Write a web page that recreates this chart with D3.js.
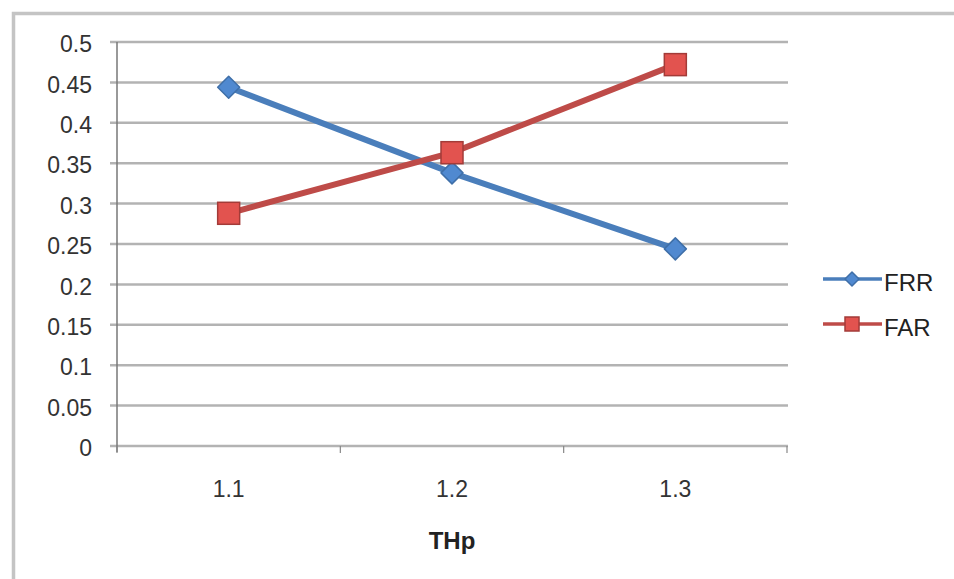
<!DOCTYPE html>
<html>
<head>
<meta charset="utf-8">
<script src="https://cdn.jsdelivr.net/npm/d3@7"></script>
<style>
  html, body { margin: 0; padding: 0; background: #fff; }
  svg { display: block; font-family: "Liberation Sans", Arial, sans-serif; }
</style>
</head>
<body>
<svg id="chart" width="954" height="579"></svg>
<script>
// Threshold values on the x axis
const categories = ["1.1", "1.2", "1.3"];
// Error rates per threshold
const frrValues = [0.444, 0.338, 0.244];
const farValues = [0.288, 0.363, 0.472];
const yTicks = [0, 0.05, 0.1, 0.15, 0.2, 0.25, 0.3, 0.35, 0.4, 0.45, 0.5];
const yTickLabels = ["0", "0.05", "0.1", "0.15", "0.2", "0.25", "0.3", "0.35", "0.4", "0.45", "0.5"];
const seriesNames = ["FRR", "FAR"];

const svg = d3.select("#chart");

// Outer chart frame
svg.append("path")
  .attr("d", "M13.5,579 V13.5 H954")
  .attr("fill", "none")
  .attr("stroke", "#c4c4c4")
  .attr("stroke-width", 3.5);

const plotLeft = 117, plotRight = 787, plotTop = 42, plotBottom = 446;

const x = d3.scaleBand().domain(categories).range([plotLeft, plotRight]).padding(0);
const y = d3.scaleLinear().domain([0, 0.5]).range([plotBottom, plotTop]);

// Horizontal gridlines
svg.append("g")
  .selectAll("line")
  .data(yTicks)
  .join("line")
  .attr("x1", plotLeft - 7)
  .attr("x2", plotRight + 1)
  .attr("y1", d => y(d))
  .attr("y2", d => y(d))
  .attr("stroke", "#b3b3b3")
  .attr("stroke-width", 2.5);

// Y axis labels
const yAxis = d3.axisLeft(y)
  .tickValues(yTicks)
  .tickFormat((d, i) => yTickLabels[i])
  .tickSize(0)
  .tickPadding(25);
const gy = svg.append("g").attr("transform", `translate(${plotLeft},0)`).call(yAxis);
gy.select(".domain").remove();
gy.selectAll("text").attr("font-size", 23).attr("fill", "#333").attr("dy", "0.42em");

// Y axis line
svg.append("line")
  .attr("x1", plotLeft).attr("x2", plotLeft)
  .attr("y1", plotTop).attr("y2", plotBottom + 6)
  .attr("stroke", "#777").attr("stroke-width", 1.5);

// X axis ticks at category boundaries
const boundaries = categories.map(c => x(c)).concat([x(categories[categories.length - 1]) + x.bandwidth()]);
svg.append("g")
  .selectAll("line")
  .data(boundaries)
  .join("line")
  .attr("x1", d => d).attr("x2", d => d)
  .attr("y1", plotBottom).attr("y2", plotBottom + 7)
  .attr("stroke", "#888").attr("stroke-width", 1.2);

// X axis labels
const xAxis = d3.axisBottom(x).tickSize(0).tickPadding(35);
const gx = svg.append("g").attr("transform", `translate(0,${plotBottom})`).call(xAxis);
gx.select(".domain").remove();
gx.selectAll("text").attr("font-size", 23).attr("fill", "#333");

// X axis title
svg.append("text")
  .attr("x", x("1.2") + x.bandwidth() / 2)
  .attr("y", 549)
  .attr("text-anchor", "middle")
  .attr("font-size", 24)
  .attr("font-weight", "bold")
  .attr("fill", "#222")
  .text("THp");

const cx = c => x(c) + x.bandwidth() / 2;
const line = d3.line().x((d, i) => cx(categories[i])).y(d => y(d));

const series = [
  { name: seriesNames[0], values: frrValues, stroke: "#4a7ebb", fill: "#5089d0", edge: "#3f6fa8", shape: "diamond" },
  { name: seriesNames[1], values: farValues, stroke: "#be4b48", fill: "#e2534f", edge: "#a33b38", shape: "square" }
];

function marker(g, s, px, py, r) {
  if (s.shape === "diamond") {
    g.append("path")
      .attr("d", `M${px},${py - r} L${px + r},${py} L${px},${py + r} L${px - r},${py} Z`)
      .attr("fill", s.fill).attr("stroke", s.edge).attr("stroke-width", 1.5)
      .attr("stroke-linejoin", "round");
  } else {
    g.append("rect")
      .attr("x", px - r).attr("y", py - r)
      .attr("width", 2 * r).attr("height", 2 * r)
      .attr("fill", s.fill).attr("stroke", s.edge).attr("stroke-width", 1.5);
  }
}

series.forEach(s => {
  svg.append("path")
    .datum(s.values)
    .attr("d", line)
    .attr("fill", "none")
    .attr("stroke", s.stroke)
    .attr("stroke-width", 6)
    .attr("stroke-linejoin", "round");
});
series.forEach(s => {
  const g = svg.append("g");
  s.values.forEach((v, i) => marker(g, s, cx(categories[i]), y(v), 11));
});

// Legend
const legendY = [279, 324];
series.forEach((s, i) => {
  const g = svg.append("g");
  g.append("line")
    .attr("x1", 823).attr("x2", 882)
    .attr("y1", legendY[i]).attr("y2", legendY[i])
    .attr("stroke", s.stroke).attr("stroke-width", 3.5);
  marker(g, s, 852, legendY[i], 7);
  g.append("text")
    .attr("x", 884).attr("y", legendY[i] + 12)
    .attr("font-size", 24)
    .attr("fill", "#222")
    .text(s.name);
});
</script>
</body>
</html>
